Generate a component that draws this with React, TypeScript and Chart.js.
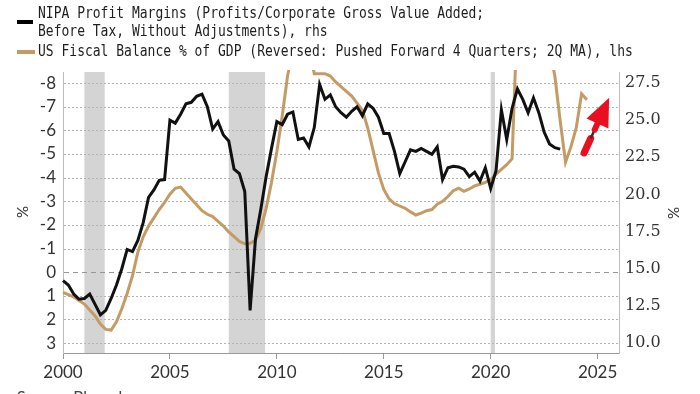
import React, { useEffect, useRef } from "react";
import { Chart, registerables } from "chart.js";

Chart.register(...registerables);

// NIPA profit margins (rhs), quarterly from 2000 Q1
const profitValues = [
  14.2, 13.9, 13.3, 12.95,
  13.0, 13.3, 12.6, 11.9,
  12.2, 13.0, 13.9, 15.0,
  16.3, 16.15, 16.9, 18.1,
  19.8, 20.3, 20.95, 21.0,
  25.0, 24.8, 25.4, 26.1,
  26.2, 26.6, 26.75, 25.9,
  24.4, 24.9, 24.0, 23.6,
  21.7, 21.4, 20.2, 12.2,
  17.0, 19.0, 21.2, 23.1,
  24.9, 24.7, 25.4, 25.55,
  23.7, 23.8, 23.2, 24.5,
  27.4, 26.4, 26.7, 25.9,
  25.5, 25.2, 25.6, 25.9,
  25.3, 26.1, 25.8, 25.2,
  24.1, 24.1, 22.9, 21.4,
  22.2, 23.0, 22.9, 23.1,
  22.9, 22.7, 23.2, 21.0,
  21.8, 21.9, 21.85, 21.7,
  21.2, 21.5, 20.9, 21.8,
  20.4, 21.6, 25.7, 23.7,
  25.8, 27.1, 26.4, 25.5,
  26.5, 25.5, 24.2, 23.4,
  23.15, 23.05,
];

// US fiscal balance % of GDP (reversed, pushed forward 4Q; 2Q MA), lhs, quarterly from 2000 Q1
const fiscalValues = [
  0.85, 0.95, 1.05, 1.2,
  1.35, 1.6, 1.85, 2.2,
  2.42, 2.45, 2.1, 1.55,
  0.9, 0.15, -0.85, -1.5,
  -1.95, -2.3, -2.65, -2.95,
  -3.3, -3.55, -3.6, -3.35,
  -3.1, -2.85, -2.6, -2.45,
  -2.35, -2.15, -1.95, -1.7,
  -1.5, -1.3, -1.2, -1.22,
  -1.35, -1.85, -2.7, -3.8,
  -5.1, -6.6, -8.3, -9.4,
  -10.0, -10.0, -9.5, -8.4,
  -8.4, -8.4, -8.3, -8.05,
  -7.85, -7.65, -7.45, -7.15,
  -6.85, -6.1, -5.15, -4.2,
  -3.5, -3.1, -2.9, -2.8,
  -2.7, -2.55, -2.42, -2.5,
  -2.6, -2.65, -2.88, -3.0,
  -3.2, -3.45, -3.55, -3.42,
  -3.52, -3.65, -3.72, -3.8,
  -3.92, -4.15, -4.35, -4.55,
  -4.8, -11.0, -15.0, -14.0,
  -13.0, -12.0, -10.5, -9.5,
  -8.3, -6.4, -4.65, -5.3,
  -6.1, -7.55, -7.3,
];

const startYear = 2000;
const quarterStep = 0.25;

const xTicks = [2000, 2005, 2010, 2015, 2020, 2025];
const leftTicks = [-8, -7, -6, -5, -4, -3, -2, -1, 0, 1, 2, 3];
const rightTicks = [10, 12.5, 15, 17.5, 20, 22.5, 25, 27.5];

// recession periods (start, end) in decimal years
const recessionStarts = [2001.0, 2007.75, 2020.0];
const recessionEnds = [2001.95, 2009.45, 2020.2];

// arrow annotation (decimal year, lhs value)
const arrowFrom = [2024.32, -4.95];
const arrowTo = [2025.5, -7.3];

const legendLines = [
  "NIPA Profit Margins (Profits/Corporate Gross Value Added;",
  "Before Tax, Without Adjustments), rhs",
  "US Fiscal Balance % of GDP (Reversed: Pushed Forward 4 Quarters; 2Q MA), lhs",
];

const BLACK = "#111111";
const TAN = "#c49b64";

export default function App() {
  const ref = useRef<HTMLCanvasElement | null>(null);

  useEffect(() => {
    const canvas = ref.current;
    if (!canvas) return;

    const profitData = profitValues.map((v, i) => ({ x: startYear + i * quarterStep, y: v }));
    const fiscalData = fiscalValues.map((v, i) => ({ x: startYear + i * quarterStep, y: v }));

    const bandsPlugin = {
      id: "bands",
      beforeDraw(chart: any) {
        const { ctx, chartArea, scales } = chart;
        const xs = scales.x;
        ctx.save();
        ctx.fillStyle = "#d4d4d4";
        for (let i = 0; i < recessionStarts.length; i++) {
          const a = xs.getPixelForValue(recessionStarts[i]);
          const b = xs.getPixelForValue(recessionEnds[i]);
          ctx.fillRect(a, chartArea.top, b - a, chartArea.bottom - chartArea.top);
        }
        ctx.restore();
      },
      beforeDatasetsDraw(chart: any) {
        // dotted horizontal grid lines at each lhs tick
        const { ctx, chartArea, scales } = chart;
        const yl = scales.yL;
        ctx.save();
        ctx.lineWidth = 1;
        for (const v of leftTicks) {
          const y = Math.round(yl.getPixelForValue(v)) + 0.5;
          if (v === 0) {
            ctx.strokeStyle = "#969696";
            ctx.setLineDash([5, 4]);
          } else {
            ctx.strokeStyle = "#b4b4b4";
            ctx.setLineDash([2, 2]);
          }
          ctx.beginPath();
          ctx.moveTo(chartArea.left + 1, y);
          ctx.lineTo(chartArea.right - 1, y);
          ctx.stroke();
        }
        ctx.restore();
      },
    };

    const decorPlugin = {
      id: "decor",
      afterDraw(chart: any) {
        const { ctx, scales } = chart;
        ctx.save();
        // legend
        ctx.lineCap = "butt";
        ctx.lineWidth = 4;
        ctx.strokeStyle = "#000";
        ctx.beginPath();
        ctx.moveTo(17, 22);
        ctx.lineTo(33, 22);
        ctx.stroke();
        ctx.strokeStyle = TAN;
        ctx.beginPath();
        ctx.moveTo(17, 52);
        ctx.lineTo(35, 52);
        ctx.stroke();
        ctx.fillStyle = "#1e1e1e";
        ctx.font = "13px 'DejaVu Sans Mono'";
        ctx.textBaseline = "middle";
        ctx.textAlign = "left";
        const drawTall = (t: string, x: number, y: number) => {
          ctx.save();
          ctx.translate(x, y);
          ctx.scale(1, 1.15);
          ctx.fillText(t, 0, 0);
          ctx.restore();
        };
        drawTall(legendLines[0], 38, 14);
        drawTall(legendLines[1], 38, 32);
        drawTall(legendLines[2], 38, 52);

        // axis titles
        ctx.font = "15px Lato";
        ctx.fillStyle = "#333";
        ctx.textAlign = "center";
        ctx.save();
        ctx.translate(23, 212);
        ctx.rotate(-Math.PI / 2);
        ctx.fillText("%", 0, 0);
        ctx.restore();
        ctx.save();
        ctx.translate(674, 213);
        ctx.rotate(-Math.PI / 2);
        ctx.fillText("%", 0, 0);
        ctx.restore();

        // source (cut off at bottom)
        ctx.textAlign = "left";
        ctx.textBaseline = "top";
        ctx.font = "16px Lato";
        ctx.fillStyle = "#444";
        ctx.fillText("Source: Bloomberg", 17, 389);

        // red arrow
        const xs = scales.x;
        const yl = scales.yL;
        const x0 = xs.getPixelForValue(arrowFrom[0]);
        const y0 = yl.getPixelForValue(arrowFrom[1]);
        const x1 = xs.getPixelForValue(arrowTo[0]);
        const y1 = yl.getPixelForValue(arrowTo[1]);
        const dx = x1 - x0;
        const dy = y1 - y0;
        const len = Math.hypot(dx, dy);
        const ux = dx / len;
        const uy = dy / len;
        const nx = -uy;
        const ny = ux;
        const pt = (t: number) => [x0 + dx * t, y0 + dy * t];
        ctx.lineCap = "round";
        ctx.strokeStyle = "#e81020";
        ctx.lineWidth = 7;
        let p = pt(0.04), q = pt(0.3);
        ctx.beginPath(); ctx.moveTo(p[0], p[1]); ctx.lineTo(q[0], q[1]); ctx.stroke();
        ctx.strokeStyle = "#333";
        ctx.lineWidth = 2.5;
        p = pt(0.32); q = pt(0.44);
        ctx.beginPath(); ctx.moveTo(p[0], p[1]); ctx.lineTo(q[0], q[1]); ctx.stroke();
        ctx.strokeStyle = "#e81020";
        ctx.lineWidth = 6;
        p = pt(0.46); q = pt(0.6);
        ctx.beginPath(); ctx.moveTo(p[0], p[1]); ctx.lineTo(q[0], q[1]); ctx.stroke();
        const base = pt(0.57);
        const hw = 12;
        ctx.fillStyle = "#e81020";
        ctx.beginPath();
        ctx.moveTo(x1 + ux * 2, y1 + uy * 2);
        ctx.lineTo(base[0] + nx * hw, base[1] + ny * hw);
        ctx.lineTo(base[0] - nx * hw, base[1] - ny * hw);
        ctx.closePath();
        ctx.fill();
        ctx.restore();
      },
    };

    const zeroPad = (s: any) => {
      s.paddingTop = 0;
      s.paddingBottom = 0;
      s.paddingLeft = 0;
      s.paddingRight = 0;
    };

    const chart = new Chart(canvas, {
      type: "line",
      data: {
        datasets: [
          {
            label: "NIPA Profit Margins",
            data: profitData,
            yAxisID: "yR",
            borderColor: BLACK,
            borderWidth: 3,
            pointRadius: 0,
            tension: 0,
            clip: 2,
          },
          {
            label: "US Fiscal Balance % of GDP",
            data: fiscalData,
            yAxisID: "yL",
            borderColor: TAN,
            borderWidth: 3,
            pointRadius: 0,
            tension: 0,
            clip: 2,
          },
        ],
      },
      options: {
        responsive: false,
        animation: false,
        devicePixelRatio: 1,
        parsing: false,
        normalized: true,
        layout: { padding: { top: 72, left: 0, right: 0, bottom: 0 } },
        plugins: {
          legend: { display: false },
          tooltip: { enabled: false },
          title: { display: false },
        },
        scales: {
          x: {
            type: "linear",
            position: "bottom",
            min: 2000,
            max: 2026,
            afterBuildTicks: (s: any) => {
              s.ticks = xTicks.map((v) => ({ value: v }));
            },
            afterFit: (s: any) => {
              s.height = 41;
              zeroPad(s);
            },
            ticks: {
              autoSkip: false,
              maxRotation: 0,
              padding: 3,
              color: "#333",
              font: { family: "Lato", size: 17 },
              callback: (v: any) => String(v),
            },
            grid: {
              drawOnChartArea: false,
              drawTicks: true,
              tickLength: 6,
              color: "#999",
            },
            border: { display: true, color: "#999", width: 1 },
          },
          yL: {
            type: "linear",
            position: "left",
            reverse: true,
            min: -8.47,
            max: 3.42,
            afterBuildTicks: (s: any) => {
              s.ticks = leftTicks.map((v) => ({ value: v }));
            },
            afterFit: (s: any) => {
              s.width = 63;
              zeroPad(s);
            },
            ticks: {
              padding: 7,
              color: "#333",
              font: { family: "Lato", size: 17 },
              callback: (v: any) => String(v),
            },
            grid: { drawOnChartArea: false, drawTicks: false },
            border: { display: true, color: "#bdbdbd", width: 1 },
          },
          yR: {
            type: "linear",
            position: "right",
            min: 9.33,
            max: 28.24,
            afterBuildTicks: (s: any) => {
              s.ticks = rightTicks.map((v) => ({ value: v }));
            },
            afterFit: (s: any) => {
              s.width = 81;
              zeroPad(s);
            },
            ticks: {
              padding: 6,
              color: "#333",
              font: { family: "DejaVu Serif", size: 16 },
              callback: (v: any) => Number(v).toFixed(1),
            },
            grid: { drawOnChartArea: false, drawTicks: false },
            border: { display: true, color: "#bdbdbd", width: 1 },
          },
        },
      },
      plugins: [bandsPlugin, decorPlugin],
    } as any);

    return () => {
      chart.destroy();
    };
  }, []);

  return (
    <div style={{ position: "absolute", left: 0, top: 0, width: 700, height: 394, background: "#fff" }}>
      <canvas ref={ref} width={700} height={394} style={{ display: "block", width: 700, height: 394 }} />
    </div>
  );
}
